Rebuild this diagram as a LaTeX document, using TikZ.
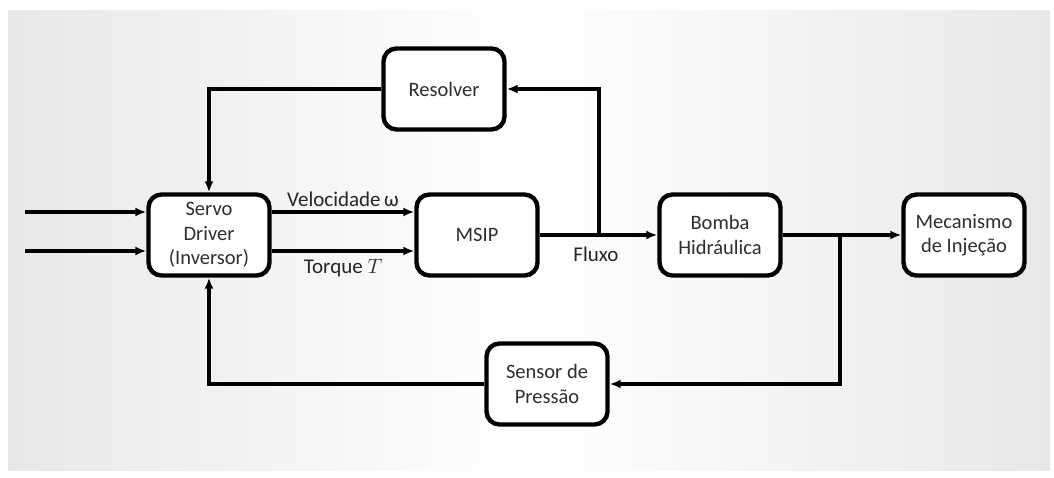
\documentclass[tikz,border=0pt]{standalone}
\usepackage{fontspec}
\setmainfont{Carlito}
\usetikzlibrary{arrows.meta}
\begin{document}
\begin{tikzpicture}[x=1pt,y=-1pt,
  blk/.style={draw=black,line width=4.4pt,rounded corners=13pt,fill=white,
    minimum width=121pt,minimum height=81pt,align=center,inner sep=1pt,
    font=\fontsize{20.5}{24.5}\selectfont,text=black!82},
  wire/.style={line width=3.3pt,draw=black},
  arr/.style={wire,-{Latex[length=11pt,width=9pt]}},
  lbl/.style={font=\fontsize{21}{24}\selectfont,text=black!85}]
% page and shaded panel
\useasboundingbox (0,0) rectangle (1054,477);
\fill[white] (0,0) rectangle (1054,477);
\shade[left color=black!9,right color=black!9,middle color=white] (8,10) rectangle (1050,470);

% blocks
\node[blk] (servo) at (209,235) {Servo\\Driver\\(Inversor)};
\node[blk] (msip)  at (477,235) {MSIP};
\node[blk] (bomba) at (720,235) {Bomba\\Hidráulica};
\node[blk] (mec)   at (964,235) {Mecanismo\\de Injeção};
\node[blk] (res)   at (444,89)  {Resolver};
\node[blk] (sens)  at (547,384) {Sensor de\\Pressão};

% junctions and free ends
\coordinate (in1) at (25,212);
\coordinate (in2) at (25,251);
\coordinate (j1) at (599,235);
\coordinate (j2) at (840,235);

% inputs
\draw[arr] (in1) -- (in1 -| servo.west);
\draw[arr] (in2) -- (in2 -| servo.west);

% servo driver to motor
\draw[arr] (servo.east |- in1) -- (msip.west |- in1)
  node[lbl,midway,above=0pt] {Velocidade\,ω};
\draw[arr] (servo.east |- in2) -- (msip.west |- in2)
  node[lbl,midway,below=3pt] {Torque $T$};

% motor to pump, with flow tap to resolver
\draw[arr] (msip.east) -- (bomba.west);
\node[lbl] (fluxo) at (596,254) {Fluxo};
\draw[arr] (j1) |- (res.east);
\draw[arr] (res.west) -| (servo.north);

% pump to injection mechanism, with pressure feedback
\draw[arr] (bomba.east) -- (mec.west);
\draw[arr] (j2) |- (sens.east);
\draw[arr] (sens.west) -| (servo.south);
\end{tikzpicture}
\end{document}
